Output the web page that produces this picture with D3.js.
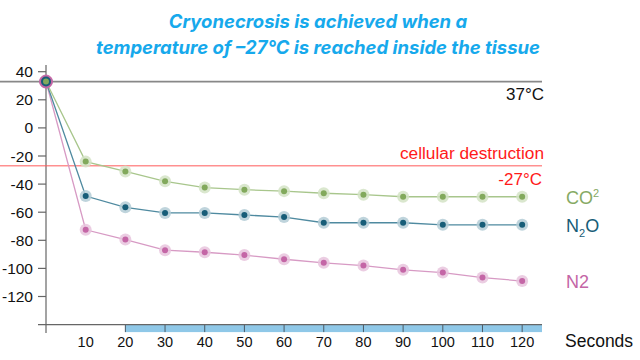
<!DOCTYPE html>
<html><head><meta charset="utf-8">
<script src="https://cdn.jsdelivr.net/npm/d3@7"></script>
<style>html,body{margin:0;padding:0;background:#fff}svg{display:block}</style>
</head><body>
<svg id="c" width="640" height="360"></svg>
<script>
const seconds = [0,10,20,30,40,50,60,70,80,90,100,110,120];
const co2 = [33,-24,-31,-38,-42.5,-44,-45,-46.5,-47.5,-49,-49,-49,-49];
const n2o = [33,-48.5,-56.5,-60.5,-60.5,-62,-63.5,-67.5,-67.5,-67.5,-69,-69,-69];
const n2  = [33,-72.5,-79.5,-87,-88.5,-90.5,-93.5,-96,-98,-101,-103,-106.5,-109];
const yTicks = [40,20,0,-20,-40,-60,-80,-100,-120];
const xTicks = [10,20,30,40,50,60,70,80,90,100,110,120];
const bodyTemp = 33, destructTemp = -27;
const titleLines = ["Cryonecrosis is achieved when a","temperature of \u201327\u00B0C is reached inside the tissue"];

const svg = d3.select("#c");
const x = d3.scaleLinear().domain([0,125]).range([46,542]);
const y = d3.scaleLinear().domain([40,-140]).range([71.7,324.6]);
const font = "'Liberation Sans', Arial, sans-serif";

// title
svg.selectAll("text.title").data(titleLines).join("text")
  .attr("x",318).attr("y",(d,i)=>28+i*26).attr("text-anchor","middle")
  .attr("font-family","Inter, 'Open Sans', sans-serif").attr("font-style","italic")
  .attr("font-weight","700").attr("font-size",18.5).attr("fill","#16a9ec").text(d=>d);

// blue bar
svg.append("rect").attr("x",x(20)).attr("y",y(-140)).attr("width",x(125)-x(20)).attr("height",7.5)
  .attr("fill","#8fc8e8");
svg.selectAll("line.bt").data(xTicks.filter(d=>d>=20)).join("line")
  .attr("x1",d=>x(d)).attr("x2",d=>x(d)).attr("y1",y(-140)).attr("y2",y(-140)+7.5)
  .attr("stroke","#4a5a66").attr("stroke-width",1);

// axes
svg.append("line").attr("x1",38).attr("x2",x(125)).attr("y1",y(-140)).attr("y2",y(-140))
  .attr("stroke","#666").attr("stroke-width",1.2);
svg.append("line").attr("x1",x(0)).attr("x2",x(0)).attr("y1",65).attr("y2",333)
  .attr("stroke","#666").attr("stroke-width",1.2);
svg.selectAll("line.yt").data(yTicks).join("line")
  .attr("x1",38).attr("x2",x(0)).attr("y1",d=>y(d)).attr("y2",d=>y(d))
  .attr("stroke","#666").attr("stroke-width",1.2);
svg.selectAll("text.yl").data(yTicks).join("text")
  .attr("x",33).attr("y",d=>y(d)+5.5).attr("text-anchor","end")
  .attr("font-family",font).attr("font-size",15.5).attr("fill","#111").text(d=>d);
svg.selectAll("text.xl").data(xTicks).join("text")
  .attr("x",d=>x(d)).attr("y",347).attr("text-anchor","middle")
  .attr("font-family",font).attr("font-size",14.5).attr("fill","#111").text(d=>d);
svg.append("text").attr("x",565).attr("y",347).attr("font-family",font).attr("font-size",17.5)
  .attr("fill","#111").text("Seconds");

// reference lines
svg.append("line").attr("x1",0).attr("x2",x(125)).attr("y1",y(bodyTemp)).attr("y2",y(bodyTemp))
  .attr("stroke","#888").attr("stroke-width",1.8);
svg.append("text").attr("x",544).attr("y",y(bodyTemp)+18).attr("text-anchor","end")
  .attr("font-family",font).attr("font-size",17).attr("fill","#111").text("37\u00B0C");
svg.append("line").attr("x1",0).attr("x2",x(125)).attr("y1",y(destructTemp)).attr("y2",y(destructTemp))
  .attr("stroke","#ff5a5a").attr("stroke-width",1);
svg.append("text").attr("x",544).attr("y",y(destructTemp)-7).attr("text-anchor","end")
  .attr("font-family",font).attr("font-size",17.3).attr("fill","#ff1a1a").text("cellular destruction");
svg.append("text").attr("x",542).attr("y",y(destructTemp)+19).attr("text-anchor","end")
  .attr("font-family",font).attr("font-size",17).attr("fill","#ff1a1a").text("-27\u00B0C");

// series
const series = [
  {name:"N2", vals:n2, line:"#d79ac4", dot:"#c466a6", halo:"#e8c4dd"},
  {name:"N2O", vals:n2o, line:"#4f8aa0", dot:"#175d78", halo:"#b4ccd6"},
  {name:"CO2", vals:co2, line:"#a8c68c", dot:"#82a95c", halo:"#d4e3c6"}
];
const lineGen = d3.line().x((d,i)=>x(seconds[i])).y(d=>y(d));
series.forEach(s=>{
  svg.append("path").attr("d",lineGen(s.vals)).attr("fill","none")
    .attr("stroke",s.line).attr("stroke-width",1.3);
});
series.forEach(s=>{
  const pts = s.vals.map((v,i)=>({v,t:seconds[i]})).filter(d=>d.t>0);
  svg.selectAll(null).data(pts).join("circle").attr("cx",d=>x(d.t)).attr("cy",d=>y(d.v))
    .attr("r",6).attr("fill",s.halo).attr("opacity",0.85);
  svg.selectAll(null).data(pts).join("circle").attr("cx",d=>x(d.t)).attr("cy",d=>y(d.v))
    .attr("r",3).attr("fill",s.dot);
});
// start point (all series overlapping)
const startR = [6.5,5,3];
series.forEach((s,i)=>{
  svg.append("circle").attr("cx",x(seconds[0])).attr("cy",y(s.vals[0])).attr("r",startR[i])
    .attr("fill",s.dot).attr("stroke", i===0? "#c466a6":"none");
});

// legend labels
const lg = svg.append("g").attr("font-family",font).attr("font-size",18);
const t1 = lg.append("text").attr("x",566).attr("y",y(co2[12])+7).attr("fill","#86aa64");
t1.append("tspan").text("CO");
t1.append("tspan").attr("font-size",11).attr("dy",-7).text("2");
const t2 = lg.append("text").attr("x",566).attr("y",y(n2o[12])+7).attr("fill","#175d78");
t2.append("tspan").text("N");
t2.append("tspan").attr("font-size",11).attr("dy",5).text("2");
t2.append("tspan").attr("dy",-5).text("O");
lg.append("text").attr("x",566).attr("y",y(n2[12])+7).attr("fill","#c466a6").text("N2");
</script>
</body></html>
